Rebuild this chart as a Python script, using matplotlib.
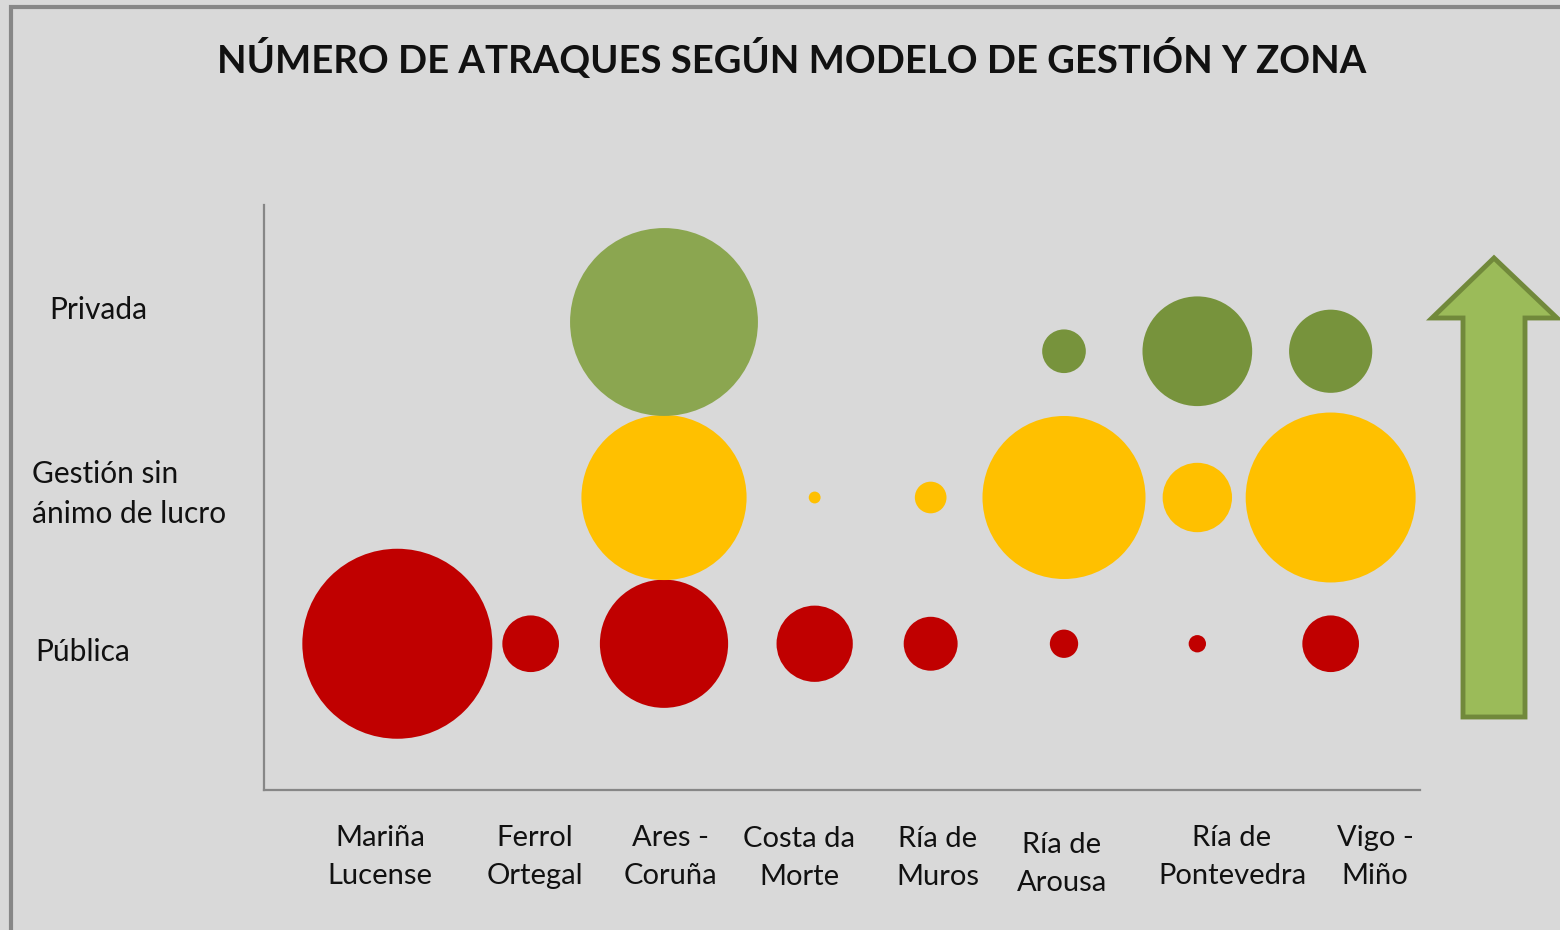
import matplotlib.pyplot as plt
from matplotlib.patches import Polygon, Rectangle

# zones (x axis) and management models (rows)
zonas = ["Mariña\nLucense", "Ferrol\nOrtegal", "Ares -\nCoruña", "Costa da\nMorte",
         "Ría de\nMuros", "Ría de\nArousa", "Ría de\nPontevedra", "Vigo -\nMiño"]
zona_x = [1, 2, 3, 4.13, 5, 6, 7, 8]
modelos = ["Pública", "Gestión sin\nánimo de lucro", "Privada"]

# number of berths (bubble area)
publica = [1800, 160, 820, 290, 145, 40, 15, 160]
sin_lucro = [0, 0, 1360, 7, 50, 1325, 240, 1440]
privada = [0, 0, 1760, 0, 0, 95, 600, 345]

# row heights
y_publica = [1] * 8
y_sin_lucro = [2] * 8
y_privada = [3, 3, 3.2, 3, 3, 3, 3, 3]

W, H = 1560, 930
bg = "#d9d9d9"
font = ["Lato", "DejaVu Sans"]

fig = plt.figure(figsize=(W / 100, H / 100), dpi=100, facecolor=bg)

# outer frame
fig.patches.append(Rectangle((10.5 / W, -0.05), 1.1, 1 - 7.5 / H + 0.05, transform=fig.transFigure,
                             fill=False, edgecolor="#878787", linewidth=3))

ax = fig.add_axes([264 / W, 1 - 790 / H, (1420 - 264) / W, (790 - 205) / H])
ax.set_facecolor(bg)
ax.set_xlim(0, 8.67)
ax.set_ylim(0, 4)
for s in ["top", "right"]:
    ax.spines[s].set_visible(False)
for s in ["left", "bottom"]:
    ax.spines[s].set_color("#878787")
    ax.spines[s].set_linewidth(1.6)
ax.set_xticks([])
ax.set_yticks([])

# area scale: biggest bubble ~190 px across
scale = (190 * 0.72) ** 2 / 1800


def bubbles(vals, ys, colors):
    xs = [x for x, v in zip(zona_x, vals) if v > 0]
    yy = [y for y, v in zip(ys, vals) if v > 0]
    ss = [v * scale for v in vals if v > 0]
    cc = [c for c, v in zip(colors, vals) if v > 0]
    ax.scatter(xs, yy, s=ss, c=cc, linewidths=0, zorder=3)


bubbles(publica, y_publica, ["#c00000"] * 8)
bubbles(sin_lucro, y_sin_lucro, ["#ffc000"] * 8)
bubbles(privada, y_privada, ["#77933c", "#77933c", "#8ba650"] + ["#77933c"] * 5)

fig.text(792 / W, 1 - 58 / H, "NÚMERO DE ATRAQUES SEGÚN MODELO DE GESTIÓN Y ZONA",
         ha="center", va="center", fontsize=27.5, fontweight="bold", family=font, color="#111111")

# row labels
row_pos = [(35, 652), (32, 494), (49, 310)]
for lab, (px, py) in zip(modelos, row_pos):
    fig.text(px / W, 1 - py / H, lab, ha="left", va="center", fontsize=21.5,
             family=font, color="#111111", linespacing=1.5)

# zone labels
label_px = [380, 535, 670, 799, 938, 1062, 1232, 1375]
label_py = [857, 857, 857, 858, 858, 864, 857, 857]
for lab, px, py in zip(zonas, label_px, label_py):
    fig.text(px / W, 1 - py / H, lab, ha="center", va="center", fontsize=21,
             family=font, color="#111111", linespacing=1.58)

# big green arrow on the right
pts = [(1494, 258), (1557, 318), (1525, 318), (1525, 717), (1463, 717), (1463, 318), (1432, 318)]
fig.patches.append(Polygon([(x / W, 1 - y / H) for x, y in pts], closed=True,
                           transform=fig.transFigure, facecolor="#9bbb59",
                           edgecolor="#71893b", linewidth=3.5))

fig.savefig("out.png", dpi=100, facecolor=bg)
